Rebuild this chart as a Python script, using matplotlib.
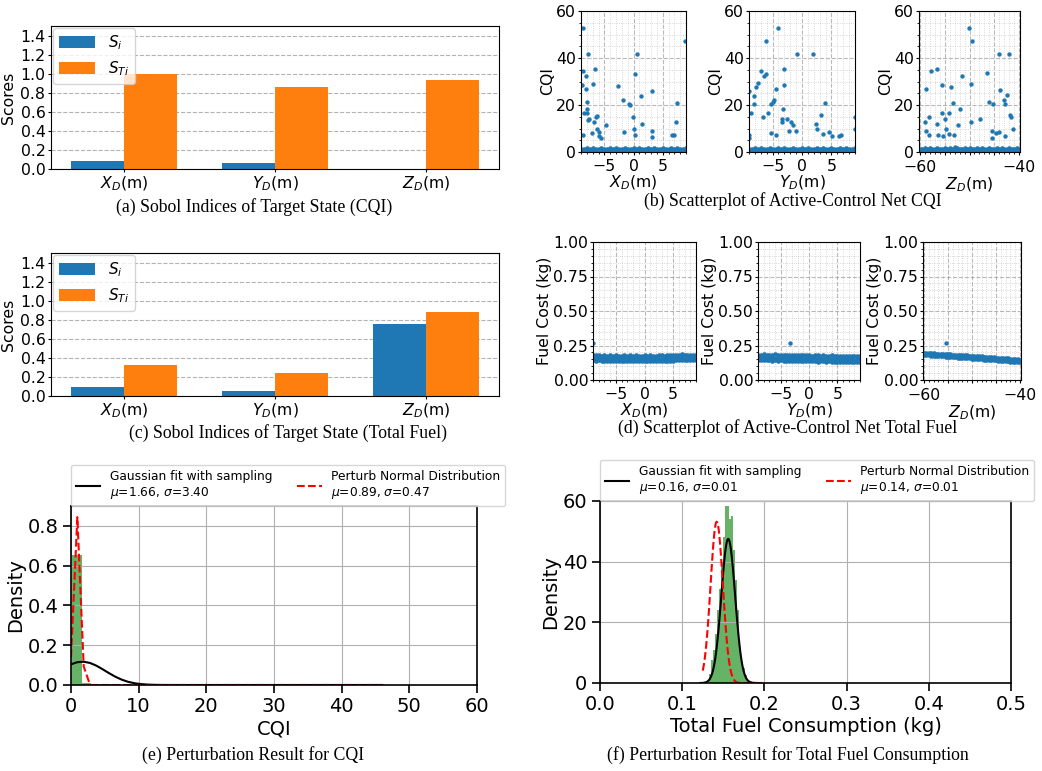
import numpy as np
import matplotlib
matplotlib.use("Agg")  # headless
import matplotlib.pyplot as plt
from matplotlib.ticker import AutoMinorLocator

# ---- data ----
params = [r"$X_D$(m)", r"$Y_D$(m)", r"$Z_D$(m)"]
si_cqi = [0.085, 0.065, 0.0]
sti_cqi = [1.0, 0.865, 0.93]
si_fuel = [0.09, 0.05, 0.755]
sti_fuel = [0.33, 0.24, 0.88]

# CQI scatter outliers
cqi_xd_x = [-8.74, -7.83, 8.86, 0.63, -8.74, -8.11, -6.63, -8.8, -6.86, -8.17,
            0.23, -2.74, 3.09, 1.37, -1.77, -7.94, -0.8, -0.57, 7.54, -7.94,
            -8.46, -7.94, -6.34, -6.51, -7.66, -7.77, -0.17, -6.69, 1.54, 7.37,
            -4.69, -6.34, 0.0, 3.2, -8.63, -7.2, -5.83, -1.71, 0.34, -5.83,
            -5.49, 3.2, 6.57, 6.91]
cqi_xd_y = [52.9, 41.7, 47.4, 41.7, 34.6, 32.4, 35.3, 28.4, 29.1, 26.9,
            33.4, 27.9, 26.1, 24.0, 22.3, 21.1, 20.3, 20.1, 20.7, 18.1,
            16.4, 16.4, 15.4, 15.0, 14.1, 13.6, 15.0, 12.7, 12.1, 12.7,
            11.3, 10.0, 9.6, 8.9, 7.4, 8.0, 8.7, 8.4, 7.4, 6.6,
            6.0, 6.4, 7.4, 7.3]
cqi_yd_x = [-4.08, -6.09, -0.92, 1.9, -6.95, -3.1, -6.38, -6.15, -7.47, -7.82,
            -3.05, -9.0, -8.16, -4.43, -8.1, -4.71, -5.0, -5.34, 3.9, -8.68,
            -5.69, -3.16, -6.55, -3.33, -2.59, -3.45, -1.84, -1.49, 3.22, 2.3,
            2.53, -2.24, -1.09, 8.95, 8.95, -5.34, -4.48, 3.51, 4.66, 5.11,
            6.32, 6.55, -8.95, -8.95]
cqi_yd_y = [52.9, 47.1, 41.7, 41.7, 34.6, 35.3, 32.4, 33.4, 29.3, 27.7,
            28.4, 26.1, 24.0, 27.0, 20.4, 22.1, 21.1, 20.3, 20.9, 16.6,
            16.4, 18.1, 15.1, 14.1, 13.9, 12.7, 12.9, 11.4, 15.7, 12.1,
            10.0, 8.9, 8.9, 15.0, 10.0, 8.0, 7.3, 7.6, 8.4, 6.6,
            6.7, 7.4, 7.3, 6.1]
cqi_zd_x = [-50.16, -49.4, -44.1, -42.1, -57.8, -56.6, -51.6, -46.4, -49.7, -55.6,
            -53.7, -58.7, -43.9, -42.5, -43.0, -46.1, -45.3, -42.8, -53.4, -51.9,
            -55.6, -54.1, -58.2, -55.0, -41.6, -41.9, -47.9, -59.05, -56.6, -49.7,
            -52.3, -54.7, -41.2, -58.7, -45.4, -44.1, -44.7, -58.2, -56.4, -55.4,
            -54.2, -53.1, -45.5, -42.8, -52.9]
cqi_zd_y = [52.9, 47.4, 41.7, 41.7, 34.6, 35.3, 32.4, 33.6, 29.1, 28.4,
            27.7, 27.0, 26.3, 24.1, 22.1, 21.1, 20.3, 20.3, 20.9, 18.1,
            16.4, 16.4, 15.1, 13.9, 15.1, 15.7, 14.1, 12.7, 12.1, 12.7,
            11.4, 10.0, 10.0, 8.9, 8.9, 8.4, 8.0, 7.3, 7.3, 6.6,
            7.6, 7.3, 6.1, 6.6, 2.1]

# dense bands near the bottom of the scatter panels
xy_band_x = [-9.0, -8.5, -8.0, -7.5, -7.0, -6.5, -6.0, -5.5, -5.0, -4.5,
             -4.0, -3.5, -3.0, -2.5, -2.0, -1.5, -1.0, -0.5, 0.0, 0.5,
             1.0, 1.5, 2.0, 2.5, 3.0, 3.5, 4.0, 4.5, 5.0, 5.5,
             6.0, 6.5, 7.0, 7.5, 8.0, 8.5, 9.0]
z_band_x = [-60.0, -59.5, -59.0, -58.5, -58.0, -57.5, -57.0, -56.5, -56.0, -55.5,
            -55.0, -54.5, -54.0, -53.5, -53.0, -52.5, -52.0, -51.5, -51.0, -50.5,
            -50.0, -49.5, -49.0, -48.5, -48.0, -47.5, -47.0, -46.5, -46.0, -45.5,
            -45.0, -44.5, -44.0, -43.5, -43.0, -42.5, -42.0, -41.5, -41.0, -40.5,
            -40.0]
cqi_band_lo = [0.5, 0.6, 0.4, 0.7, 0.5, 0.6, 0.5, 0.8, 0.4, 0.6,
               0.5, 0.7, 0.6, 0.4, 0.5, 0.6, 0.7, 0.5, 0.6, 0.4,
               0.6, 0.5, 0.7, 0.5, 0.6, 0.4, 0.6, 0.5, 0.7, 0.6,
               0.5, 0.4, 0.6, 0.5, 0.7, 0.6, 0.5, 0.6, 0.4, 0.5,
               0.6]
cqi_band_hi = [1.4, 1.3, 1.6, 1.2, 1.5, 1.4, 1.3, 1.7, 1.4, 1.2,
               1.5, 1.3, 1.6, 1.4, 1.2, 1.5, 1.3, 1.4, 1.6, 1.3,
               1.5, 1.2, 1.4, 1.6, 1.3, 1.5, 1.4, 1.2, 1.6, 1.3,
               1.4, 1.5, 1.3, 1.6, 1.4, 1.2, 1.5, 1.3, 1.4, 1.6,
               1.3]

fuel_xd_hi = [0.182, 0.178, 0.181, 0.176, 0.179, 0.177, 0.182, 0.176, 0.178, 0.175,
              0.177, 0.179, 0.175, 0.178, 0.176, 0.18, 0.177, 0.175, 0.178, 0.176,
              0.179, 0.177, 0.175, 0.178, 0.18, 0.177, 0.179, 0.181, 0.178, 0.183,
              0.181, 0.185, 0.182, 0.184, 0.181, 0.183, 0.182]
fuel_xd_mid = [0.162, 0.158, 0.16, 0.157, 0.161, 0.158, 0.16, 0.156, 0.159, 0.157,
               0.155, 0.158, 0.156, 0.159, 0.157, 0.155, 0.158, 0.156, 0.157, 0.159,
               0.156, 0.158, 0.157, 0.155, 0.158, 0.16, 0.158, 0.161, 0.16, 0.163,
               0.162, 0.165, 0.163, 0.164, 0.162, 0.164, 0.163]
fuel_xd_lo = [0.142, 0.139, 0.143, 0.138, 0.141, 0.137, 0.14, 0.136, 0.139, 0.137,
              0.135, 0.138, 0.136, 0.139, 0.137, 0.135, 0.138, 0.136, 0.137, 0.139,
              0.136, 0.138, 0.137, 0.135, 0.138, 0.14, 0.138, 0.141, 0.14, 0.143,
              0.142, 0.145, 0.143, 0.144, 0.142, 0.144, 0.143]
fuel_yd_hi = [0.184, 0.182, 0.185, 0.181, 0.184, 0.182, 0.186, 0.183, 0.181, 0.184,
              0.18, 0.183, 0.181, 0.179, 0.182, 0.18, 0.178, 0.181, 0.179, 0.177,
              0.18, 0.178, 0.176, 0.179, 0.177, 0.175, 0.178, 0.176, 0.174, 0.177,
              0.175, 0.173, 0.176, 0.174, 0.172, 0.175, 0.173]
fuel_yd_mid = [0.165, 0.162, 0.164, 0.161, 0.163, 0.16, 0.162, 0.159, 0.161, 0.16,
               0.158, 0.16, 0.157, 0.159, 0.156, 0.158, 0.155, 0.157, 0.156, 0.154,
               0.156, 0.153, 0.155, 0.154, 0.152, 0.154, 0.151, 0.153, 0.152, 0.15,
               0.152, 0.149, 0.151, 0.15, 0.148, 0.15, 0.149]
fuel_yd_lo = [0.146, 0.143, 0.145, 0.142, 0.144, 0.141, 0.143, 0.14, 0.142, 0.14,
              0.139, 0.141, 0.138, 0.14, 0.137, 0.139, 0.136, 0.138, 0.137, 0.135,
              0.137, 0.134, 0.136, 0.135, 0.133, 0.135, 0.132, 0.134, 0.133, 0.131,
              0.133, 0.13, 0.132, 0.131, 0.129, 0.131, 0.13]
fuel_zd_hi = [0.196, 0.195, 0.195, 0.193, 0.193, 0.191, 0.191, 0.189, 0.189, 0.187,
              0.186, 0.185, 0.184, 0.183, 0.182, 0.181, 0.180, 0.179, 0.178, 0.177,
              0.175, 0.174, 0.173, 0.172, 0.171, 0.170, 0.168, 0.167, 0.166, 0.165,
              0.163, 0.162, 0.161, 0.159, 0.158, 0.157, 0.155, 0.154, 0.152, 0.150,
              0.147]
fuel_zd_lo = [0.180, 0.179, 0.178, 0.177, 0.176, 0.175, 0.173, 0.172, 0.171, 0.170,
              0.168, 0.167, 0.166, 0.164, 0.163, 0.162, 0.160, 0.159, 0.158, 0.156,
              0.155, 0.154, 0.152, 0.151, 0.150, 0.148, 0.147, 0.146, 0.144, 0.143,
              0.142, 0.140, 0.139, 0.138, 0.136, 0.135, 0.133, 0.132, 0.130, 0.129,
              0.127]
fuel_out_xd = ([-9.0], [0.268])
fuel_out_yd = ([-3.3], [0.268])
fuel_out_zd = ([-55.5], [0.268])

# perturbation histograms
cqi_bin_start, cqi_bin_width = 0.15, 1.43
cqi_hist = [0.653, 0.009, 0.004, 0.003, 0.003, 0.002, 0.002, 0.002, 0.002, 0.001,
            0.001, 0.002, 0.001, 0.001, 0.001, 0.002, 0.001, 0.001, 0.002, 0.001,
            0.001, 0.001, 0.001, 0.001, 0.001, 0.001, 0.001, 0.001, 0.0, 0.001,
            0.001, 0.0, 0.001, 0.0, 0.0, 0.001, 0.001]
fuel_bin_start, fuel_bin_width = 0.1330, 0.0024
fuel_hist = [3, 7.7, 11, 16, 24, 31, 40, 48, 58.2, 58.4,
             54, 55, 44, 34, 24, 12, 7, 5, 2.5, 1,
             0.5, 0.3]

# fitted / perturbation normal parameters (labels show rounded values)
cqi_fit = (1.66, 3.40)
cqi_pert = (0.89, 0.47)
fuel_fit = (0.156, 0.0084)
fuel_pert = (0.142, 0.0075)

W, H = 1042, 771
fig = plt.figure(figsize=(W / 100, H / 100), dpi=100)
BLUE = "#1f77b4"


def rect(l, t, r, b):
    return [l / W, 1 - b / H, (r - l) / W, (b - t) / H]


def norm_pdf(x, mu, s):
    return np.exp(-0.5 * ((x - mu) / s) ** 2) / (s * np.sqrt(2 * np.pi))


def sobol_panel(box, si, sti):
    ax = fig.add_axes(rect(*box))
    x = np.arange(len(params))
    ax.bar(x - 0.175, si, 0.35, color=BLUE, label=r"$S_i$")
    ax.bar(x + 0.175, sti, 0.35, color="#ff7f0e", label=r"$S_{Ti}$")
    ax.set_xticks(x)
    ax.set_xticklabels(params)
    ax.set_ylim(0, 1.5)
    ax.set_yticks([0.0, 0.2, 0.4, 0.6, 0.8, 1.0, 1.2, 1.4])
    ax.yaxis.grid(True, ls="--", color="gray", alpha=0.6, lw=0.8)
    ax.set_axisbelow(True)
    ax.tick_params(labelsize=11.3, length=2.5, pad=1.5)
    ax.set_ylabel("Scores", fontsize=11.3, labelpad=3)
    ax.legend(loc="upper left", fontsize=11, borderaxespad=0.1,
              handlelength=2.4, handleheight=0.85, labelspacing=0.45)
    return ax


def scatter_panel(box, pts, bands, xlim, xticks, xlabels, ylim, yticks, ylabel, xlabel,
                  xpad=2.5):
    ax = fig.add_axes(rect(*box))
    for bx, by in bands:
        ax.scatter(bx, by, s=11, color=BLUE, linewidths=0)
    ax.scatter(pts[0], pts[1], s=10, color=BLUE, linewidths=0)
    ax.set_xlim(*xlim)
    ax.set_ylim(*ylim)
    ax.set_xticks(xticks)
    ax.set_xticklabels(xlabels)
    ax.set_yticks(yticks)
    ax.xaxis.set_minor_locator(AutoMinorLocator())
    ax.yaxis.set_minor_locator(AutoMinorLocator())
    ax.grid(which="major", ls="--", color="gray", alpha=0.55, lw=0.8)
    ax.grid(which="minor", ls=":", color="gray", alpha=0.4, lw=0.6)
    ax.set_axisbelow(True)
    ax.tick_params(which="major", labelsize=11.3, length=2.5)
    ax.tick_params(axis="y", which="major", pad=1)
    ax.tick_params(axis="x", which="major", pad=xpad)
    ax.tick_params(which="minor", length=1.2)
    ax.set_ylabel(ylabel, fontsize=11.3, labelpad=1)
    ax.set_xlabel(xlabel, fontsize=11.3, labelpad=0)
    return ax


# (a) and (c)
sobol_panel((51, 26, 499, 169), si_cqi, sti_cqi)
sobol_panel((51, 253, 499, 396), si_fuel, sti_fuel)

# (b) CQI scatter
xy_ticks = [-5, 0, 5]
xy_lbls = ["\u22125", "0", "5"]
z_ticks = [-60, -55, -50, -45, -40]
z_lbls = ["\u221260", "", "", "", "\u221240"]
cqi_bands_xy = [(xy_band_x, cqi_band_lo[:37]), (xy_band_x, cqi_band_hi[:37])]
cqi_bands_z = [(z_band_x, cqi_band_lo), (z_band_x, cqi_band_hi)]
scatter_panel((581, 11, 686, 152), (cqi_xd_x, cqi_xd_y), cqi_bands_xy, (-9, 9),
              xy_ticks, xy_lbls, (0, 60), [0, 20, 40, 60], "CQI", params[0])
scatter_panel((749, 11, 855, 152), (cqi_yd_x, cqi_yd_y), cqi_bands_xy, (-9, 9),
              xy_ticks, xy_lbls, (0, 60), [0, 20, 40, 60], "CQI", params[1])
scatter_panel((919, 11, 1020, 152), (cqi_zd_x, cqi_zd_y), cqi_bands_z, (-60.2, -39.8),
              z_ticks, z_lbls, (0, 60), [0, 20, 40, 60], "CQI", params[2], xpad=3.4)

# (d) fuel scatter
f_ticks = [0.0, 0.25, 0.5, 0.75, 1.0]
scatter_panel((593, 242, 696, 380), fuel_out_xd,
              [(xy_band_x, fuel_xd_hi), (xy_band_x, fuel_xd_mid), (xy_band_x, fuel_xd_lo)],
              (-9, 9), xy_ticks, xy_lbls, (0, 1), f_ticks, "Fuel Cost (kg)", params[0])
scatter_panel((758, 242, 860, 380), fuel_out_yd,
              [(xy_band_x, fuel_yd_hi), (xy_band_x, fuel_yd_mid), (xy_band_x, fuel_yd_lo)],
              (-9, 9), xy_ticks, xy_lbls, (0, 1), f_ticks, "Fuel Cost (kg)", params[1])
scatter_panel((923, 242, 1021, 380), fuel_out_zd,
              [(z_band_x, fuel_zd_hi), (z_band_x, fuel_zd_lo)],
              (-60.2, -39.8), z_ticks, z_lbls, (0, 1), f_ticks, "Fuel Cost (kg)", params[2],
              xpad=3.4)


def hist_panel(box, start, width, heights, fit, pert, xg_fit, xg_pert, fit_lbl, pert_lbl,
               xlim, xticks, ylim, yticks, xlabel):
    ax = fig.add_axes(rect(*box))
    lefts = start + width * np.arange(len(heights))
    ax.bar(lefts, heights, width, align="edge", color="g", alpha=0.6)
    ax.plot(xg_fit, norm_pdf(xg_fit, *fit), color="k", lw=1.5, label=fit_lbl)
    ax.plot(xg_pert, norm_pdf(xg_pert, *pert), color="r", ls="--", lw=1.5, label=pert_lbl)
    ax.set_xlim(*xlim)
    ax.set_ylim(*ylim)
    ax.set_xticks(xticks)
    ax.set_yticks(yticks)
    ax.grid(True)
    ax.tick_params(labelsize=14, width=1.2, length=5.5)
    for sp in ax.spines.values():
        sp.set_linewidth(1.2)
    ax.set_xlabel(xlabel, fontsize=14, labelpad=2)
    ax.set_ylabel("Density", fontsize=14, labelpad=2)
    ax.legend(loc="lower left", bbox_to_anchor=(0, 1), ncol=2, fontsize=8.8,
              borderaxespad=0)
    return ax


xg = np.linspace(0, 46, 50)
hist_panel((71, 506, 477, 685), cqi_bin_start, cqi_bin_width, cqi_hist, cqi_fit, cqi_pert,
           xg, xg,
           "Gaussian fit with sampling\n$\\mu$=1.66, $\\sigma$=3.40",
           "Perturb Normal Distribution\n$\\mu$=0.89, $\\sigma$=0.47",
           (0, 60), [0, 10, 20, 30, 40, 50, 60], (0, 0.9), [0.0, 0.2, 0.4, 0.6, 0.8], "CQI")
hist_panel((600, 501, 1011, 683), fuel_bin_start, fuel_bin_width, fuel_hist, fuel_fit, fuel_pert,
           np.linspace(0.1224, 0.1896, 120), np.linspace(0.125, 0.2, 120),
           "Gaussian fit with sampling\n$\\mu$=0.16, $\\sigma$=0.01",
           "Perturb Normal Distribution\n$\\mu$=0.14, $\\sigma$=0.01",
           (0, 0.5), [0.0, 0.1, 0.2, 0.3, 0.4, 0.5], (0, 60), [0, 20, 40, 60],
           "Total Fuel Consumption (kg)")

# captions
caps = [
    (254, 207, "(a) Sobol Indices of Target State (CQI)"),
    (793, 201, "(b) Scatterplot of Active-Control Net CQI"),
    (288, 433, "(c) Sobol Indices of Target State (Total Fuel)"),
    (788, 428, "(d) Scatterplot of Active-Control Net Total Fuel"),
    (253, 755, "(e) Perturbation Result for CQI"),
    (788, 755, "(f) Perturbation Result for Total Fuel Consumption"),
]
for cx, cy, txt in caps:
    fig.text(cx / W, 1 - cy / H, txt, ha="center", va="center",
             family="Liberation Serif", fontsize=12.8)

fig.savefig("out.png", dpi=100)
